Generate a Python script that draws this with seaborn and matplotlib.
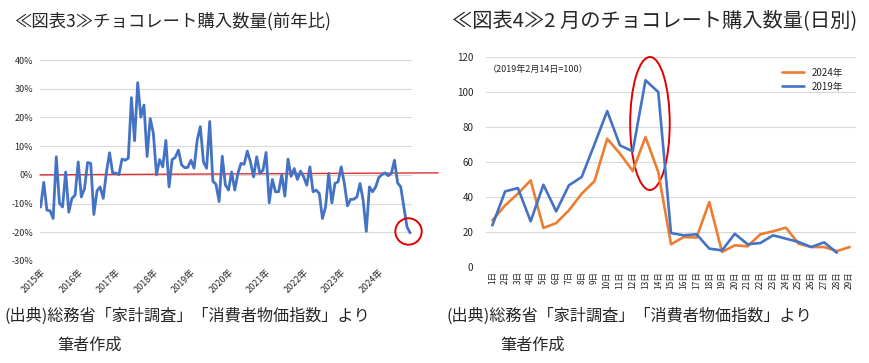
import numpy as np
import pandas as pd
import seaborn as sns
import matplotlib.pyplot as plt
from matplotlib.patches import Ellipse

# 図表3: 前年比（%）2015年1月〜2024年11月
yoy = [-11.2, -2.6, -12.3, -12.5, -15.2, 6.3, -9.8, -11.2, 1.0, -13.0,
       -8.2, -7.1, 4.5, -7.7, -4.8, 4.3, 4.0, -13.8, -5.6, -4.2,
       -8.2, 0.8, 7.7, 0.7, 0.6, 0.1, 5.5, 5.1, 5.8, 26.9,
       11.9, 32.1, 20.1, 24.3, 6.4, 19.6, 14.5, 0.0, 5.3, 2.8,
       12.0, -4.2, 5.3, 6.1, 8.6, 3.5, 2.5, 2.6, 5.1, 2.3,
       12.1, 16.8, 4.5, 2.3, 18.6, -2.2, -3.3, -9.3, 6.5, -3.5,
       -5.3, 1.0, -5.3, 0.5, 4.0, 3.7, 8.3, 4.5, -0.7, 6.3,
       0.5, 1.6, 7.8, -9.7, -1.6, -5.9, -5.9, 0.0, -7.4, 5.5,
       -0.5, 2.2, -1.6, 1.3, -0.7, -3.6, 2.8, -5.9, -5.3, -6.5,
       -15.2, -11.2, 0.5, -9.8, -3.0, -2.4, 2.8, -3.0, -10.8, -8.5,
       -8.5, -7.7, -3.0, -8.8, -19.7, -4.2, -5.9, -4.2, -0.9, 0.1,
       0.7, -0.3, 0.5, 5.1, -2.8, -4.2, -11.2, -18.1, -20.2]
years = [f"{y}年" for y in range(2015, 2025)]
pct_ticks = [40, 30, 20, 10, 0, -10, -20, -30]

# 図表4: 2月の日別（2019年2月14日=100）
days = [f"{d}日" for d in range(1, 30)]
v2024 = [26.7, 35.2, 41.9, 49.5, 22.3, 25.1, 32.4, 41.9, 49.0, 73.3,
         64.8, 54.9, 74.3, 54.3, 13.0, 17.1, 16.8, 37.1, 8.6, 12.4,
         11.8, 18.7, 20.4, 22.5, 13.3, 11.4, 11.4, 9.1, 11.4]
v2019 = [23.8, 43.2, 45.1, 26.1, 47.0, 31.8, 46.7, 51.4, 70.1, 89.1,
         69.5, 66.1, 106.7, 100.0, 19.4, 18.1, 18.7, 10.5, 9.5, 19.0,
         13.0, 13.7, 18.1, 16.2, 14.3, 11.4, 14.1, 8.2, np.nan]

blue = "#4472C4"
orange = "#ED7D31"
grid_c = "#D9D9D9"

sns.set_style("white")
plt.rcParams['font.family'] = ['Noto Sans CJK JP', 'DejaVu Sans']

fig = plt.figure(figsize=(8.7, 3.63), dpi=100)

# ---- 左: 前年比
ax1 = fig.add_axes([40/870, 1-261/363, 372/870, 201/363])
df1 = pd.DataFrame({"m": np.arange(len(yoy)), "v": yoy})
sns.lineplot(data=df1, x="m", y="v", ax=ax1, color=blue, linewidth=2.0)
ax1.set_xlim(-0.2, len(yoy) - 0.4)
ax1.set_ylim(-30, 40)
ax1.set_yticks(pct_ticks)
ax1.set_yticklabels([f"{t}%" for t in pct_ticks], fontsize=6.5)
ax1.set_xticks(np.arange(0, len(yoy), 12))
ax1.set_xticklabels(years, rotation=45, ha="right", rotation_mode="anchor", fontsize=6.5)
ax1.tick_params(length=0, pad=5)
ax1.yaxis.grid(True, color=grid_c, lw=0.8)
ax1.set_axisbelow(True)
for s in ax1.spines.values():
    s.set_visible(False)
ax1.set_xlabel("")
ax1.set_ylabel("")
# 0%の赤線（わずかに右上がり、軸の外まで延びる）
ax1.plot([-0.2, len(yoy) + 8], [0, 0.7], color="#E03030", lw=1.0,
         clip_on=False, zorder=1)
ax1.plot(len(yoy) - 1.6, yoy[-1] + 0.7, marker="o", ms=19, mfc="none",
         mec="#E00000", mew=1.4, clip_on=False)

# ---- 右: 日別
ax2 = fig.add_axes([486/870, 1-267/363, 370/870, 210/363])
df2 = pd.DataFrame({"d": list(range(len(days))) * 2,
                    "v": v2024 + v2019,
                    "年": ["2024年"] * len(days) + ["2019年"] * len(days)})
sns.lineplot(data=df2, x="d", y="v", hue="年", palette=[orange, blue],
             ax=ax2, linewidth=1.9)
ax2.set_xlim(-0.5, len(days) - 0.5)
ax2.set_ylim(0, 120)
ax2.set_yticks(range(0, 121, 20))
ax2.tick_params(axis="y", labelsize=7, length=0, pad=9)
ax2.set_xticks(range(len(days)))
ax2.set_xticklabels(days, rotation=90, fontsize=6)
ax2.tick_params(axis="x", length=0, pad=3)
ax2.yaxis.grid(True, color=grid_c, lw=0.8)
ax2.set_axisbelow(True)
for s in ax2.spines.values():
    s.set_visible(False)
ax2.axhline(0, color=grid_c, lw=0.8)
ax2.set_xlabel("")
ax2.set_ylabel("")
ax2.legend(loc="upper right", bbox_to_anchor=(0.99, 0.99), frameon=False,
           fontsize=7, handlelength=2.3, labelspacing=0.4)
ax2.text(0.005, 0.94, "（2019年2月14日=100）", transform=ax2.transAxes,
         fontsize=6.5, va="center")
peak_x = 12.35
ax2.add_patch(Ellipse((peak_x, 82), 3.1, 76, fill=False, edgecolor="#E00000",
                      lw=1.4, clip_on=False))

# ---- タイトル・出典
fig.text(14/870, 1-21/363, "≪図表3≫チョコレート購入数量(前年比)", fontsize=12.5, va="center")
fig.text(452/870, 1-21/363, "≪図表4≫2 月のチョコレート購入数量(日別)", fontsize=14.6, va="center")
src = "(出典)総務省「家計調査」「消費者物価指数」より"
fig.text(4/870, 1-316/363, src, fontsize=11.6, va="center")
fig.text(57/870, 1-345/363, "筆者作成", fontsize=11.6, va="center")
fig.text(447/870, 1-316/363, src, fontsize=11.6, va="center")
fig.text(500/870, 1-345/363, "筆者作成", fontsize=11.6, va="center")

fig.savefig("out.png", dpi=100)
